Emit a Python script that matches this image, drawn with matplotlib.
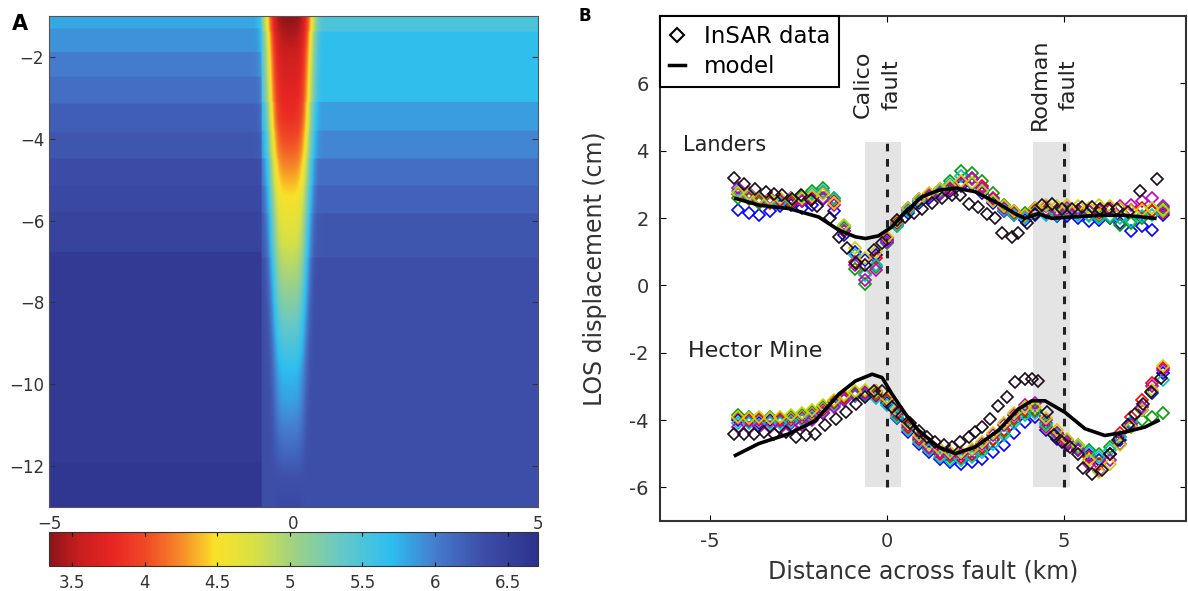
import numpy as np
import matplotlib
matplotlib.use("Agg")
import matplotlib.pyplot as plt
from matplotlib.colors import LinearSegmentedColormap
from matplotlib.lines import Line2D

plt.rcParams['font.family'] = ['DejaVu Sans']

# ---------------- panel A: velocity model ----------------
# horizontal layers west of the fault zone (top depth of each layer, km) and velocity
left_layer_top = [-1.0, -1.30, -1.87, -2.48, -3.13, -3.83, -4.48, -5.13, -5.78, -6.76, -11.90]
left_layer_vel = [5.80, 5.90, 6.00, 6.10, 6.20, 6.25, 6.35, 6.40, 6.45, 6.58, 6.63]
# layers east of the fault zone
right_layer_top = [-1.0, -1.38, -3.10, -3.79, -4.47, -5.13, -5.82, -6.89]
right_layer_vel = [5.50, 5.68, 5.85, 5.95, 6.10, 6.18, 6.25, 6.32]
# compliant zone: velocity in its core and half width vs depth
core_depth = [-1.0, -2.0, -3.5, -4.3, -5.0, -5.6, -6.5, -7.4, -8.4, -9.7, -10.5, -11.3, -12.3, -13.0]
core_vel = [3.35, 3.60, 3.85, 4.10, 4.35, 4.55, 4.75, 5.00, 5.30, 5.70, 5.85, 6.05, 6.30, 6.40]
width_depth = [-1.0, -5.0, -9.0, -13.0]
width_km = [0.48, 0.42, 0.34, 0.28]
zone_center = -0.08
zone_west_edge = -0.65

cbar_ticks = [3.5, 4, 4.5, 5, 5.5, 6, 6.5]
cbar_labels = ["3.5", "4", "4.5", "5", "5.5", "6", "6.5"]

# ---------------- panel B: LOS profiles ----------------
landers_black_x = [-4.31, -4.03, -3.72, -3.42, -3.18, -2.95, -2.67, -2.43, -2.15, -1.96, -1.59, -1.35,
                   -1.12, -0.88, -0.60, -0.37, -0.13, 0.29, 0.53, 0.76, 1.00, 1.28, 1.56, 1.84, 2.08,
                   2.31, 2.59, 2.83, 3.06, 3.25, 3.53, 3.72, 3.95, 4.19, 4.38, 4.66, 4.94, 5.22, 5.50,
                   5.79, 6.02, 6.25, 6.49, 6.82, 7.15, 7.62]
landers_black_y = [3.19, 3.02, 2.85, 2.78, 2.70, 2.68, 2.55, 2.68, 2.53, 2.35, 1.99, 1.44,
                   1.10, 0.65, 0.60, 1.05, 1.25, 1.93, 2.03, 2.15, 2.28, 2.45, 2.58, 2.68, 2.68,
                   2.43, 2.33, 2.13, 1.99, 1.54, 1.44, 1.54, 1.84, 2.13, 2.38, 2.43, 2.28, 2.28, 2.33,
                   2.33, 2.28, 2.28, 2.28, 2.18, 2.79, 3.17]
landers_model_x = [-4.26, -3.6, -2.76, -1.92, -1.35, -0.88, -0.6, -0.23, 0.15, 0.53, 1.0, 1.46, 1.94,
                   2.5, 3.15, 3.62, 3.9, 4.28, 4.66, 5.22, 5.97, 6.73, 7.57]
landers_model_y = [2.58, 2.38, 2.28, 2.03, 1.64, 1.44, 1.39, 1.47, 1.74, 2.18, 2.63, 2.82, 2.89,
                   2.78, 2.43, 2.13, 1.99, 2.13, 1.99, 2.03, 2.08, 2.08, 1.99]

hector_black_x = [-4.31, -4.03, -3.75, -3.46, -3.18, -2.85, -2.57, -2.29, -2.01, -1.73, -1.44, -1.16,
                  -0.88, -0.60, -0.37, -0.13, 0.15, 0.43, 0.67, 0.90, 1.14, 1.37, 1.61, 1.84, 2.08,
                  2.31, 2.50, 2.69, 2.92, 3.15, 3.39, 3.62, 3.90, 4.10, 4.28, 4.52, 4.71, 4.94, 5.17,
                  5.41, 5.55, 5.79, 6.07, 6.30, 6.54, 6.82, 7.00, 7.24, 7.47, 7.75]
hector_black_y = [-4.41, -4.41, -4.41, -4.36, -4.41, -4.36, -4.51, -4.46, -4.41, -4.16, -3.97, -3.77,
                  -3.52, -3.33, -3.13, -3.13, -3.62, -3.87, -4.08, -4.33, -4.51, -4.65, -4.75, -4.80, -4.65,
                  -4.51, -4.35, -4.21, -3.97, -3.57, -3.33, -2.88, -2.79, -2.79, -2.84, -3.77, -4.46, -4.65, -4.80,
                  -5.00, -5.44, -5.59, -5.49, -5.00, -4.60, -4.16, -3.82, -3.53, -3.18, -2.74]
hector_model_x = [-4.27, -3.61, -2.76, -2.01, -1.35, -0.88, -0.41, -0.13, 0.15, 0.53, 0.9, 1.46, 1.94,
                  2.5, 3.15, 3.72, 4.1, 4.47, 5.03, 5.6, 6.16, 6.73, 7.29, 7.66]
hector_model_y = [-5.05, -4.70, -4.41, -4.02, -3.23, -2.84, -2.64, -2.74, -3.23, -3.82, -4.31, -4.80, -5.00,
                  -4.80, -4.31, -3.67, -3.43, -3.43, -3.77, -4.26, -4.46, -4.36, -4.21, -4.02]

# positions of the individual (coloured) profiles
profile_x = [-4.2, -3.9, -3.6, -3.3, -3.0, -2.7, -2.4, -2.1, -1.8, -1.5, -1.2, -0.9, -0.6, -0.3, 0.0,
             0.3, 0.6, 0.9, 1.2, 1.5, 1.8, 2.1, 2.4, 2.7, 3.0, 3.3, 3.6, 3.9, 4.2, 4.5, 4.8, 5.1, 5.4,
             5.7, 6.0, 6.3, 6.6, 6.9, 7.2, 7.5, 7.8]
profile_colors = ['#0000ff', '#00a000', '#ff0000', '#00c0c0', '#c000c0', '#d0d000']

landers_profiles = [
    [2.25, 2.15, 2.1, 2.2, 2.35, 2.4, 2.3, 2.4, 2.55, 2.2, 1.5, 1.0, 0.75, 0.9, 1.35, 1.8, 2.15, 2.45, 2.6, 2.7,
     2.8, 2.95, 3.0, 2.75, 2.45, 2.2, 2.1, 1.95, 2.1, 2.15, 2.05, 2.05, 2.0, 1.9, 1.95, 2.0, 1.85, 1.6, 1.75, 1.65, 2.1],
    [2.6, 2.55, 2.45, 2.5, 2.55, 2.5, 2.65, 2.8, 2.9, 2.6, 1.7, 0.5, 0.05, 0.55, 1.25, 1.75, 2.2, 2.5, 2.7, 2.85,
     3.1, 3.4, 3.35, 3.1, 2.75, 2.4, 2.2, 2.15, 2.25, 2.2, 2.15, 2.2, 2.15, 2.1, 2.05, 2.0, 1.8, 1.85, 2.0, 2.2, 2.3],
    [2.7, 2.6, 2.5, 2.45, 2.5, 2.45, 2.5, 2.6, 2.75, 2.5, 1.6, 0.7, 0.35, 0.8, 1.4, 1.85, 2.25, 2.5, 2.7, 2.75,
     2.85, 3.0, 3.15, 2.95, 2.6, 2.3, 2.15, 2.05, 2.2, 2.25, 2.2, 2.15, 2.2, 2.2, 2.15, 2.25, 2.3, 2.25, 2.3, 2.2, 2.15],
    [2.8, 2.65, 2.55, 2.5, 2.45, 2.55, 2.6, 2.7, 2.8, 2.55, 1.75, 0.9, 0.3, 0.6, 1.3, 1.8, 2.2, 2.5, 2.65, 2.8,
     3.0, 3.25, 3.2, 2.85, 2.5, 2.25, 2.1, 2.0, 2.15, 2.1, 2.1, 2.15, 2.1, 2.05, 2.0, 2.05, 2.0, 1.9, 2.05, 2.1, 2.2],
    [2.9, 2.75, 2.6, 2.6, 2.55, 2.6, 2.5, 2.55, 2.6, 2.4, 1.6, 0.6, 0.15, 0.45, 1.3, 1.9, 2.3, 2.55, 2.65, 2.75,
     2.9, 3.05, 3.2, 2.9, 2.55, 2.3, 2.2, 2.1, 2.3, 2.35, 2.25, 2.3, 2.25, 2.2, 2.25, 2.3, 2.35, 2.4, 2.5, 2.6, 2.35],
    [2.75, 2.7, 2.6, 2.55, 2.6, 2.55, 2.6, 2.65, 2.7, 2.45, 1.8, 1.1, 0.8, 1.0, 1.45, 1.9, 2.3, 2.55, 2.75, 2.85,
     2.95, 3.1, 3.05, 2.8, 2.5, 2.35, 2.2, 2.1, 2.3, 2.4, 2.35, 2.4, 2.35, 2.3, 2.4, 2.35, 2.3, 2.2, 2.25, 2.3, 2.25],
]
hector_profiles = [
    [-4.0, -4.05, -4.1, -4.0, -4.05, -4.1, -4.0, -3.95, -3.8, -3.55, -3.35, -3.3, -3.25, -3.3, -3.5, -3.95, -4.35,
     -4.7, -4.95, -5.15, -5.25, -5.3, -5.25, -5.15, -4.95, -4.75, -4.4, -4.05, -3.9, -4.3, -4.55, -4.75, -4.9,
     -5.05, -5.2, -5.0, -4.6, -4.1, -3.7, -3.2, -2.6],
    [-3.85, -3.9, -3.95, -3.9, -3.95, -3.9, -3.85, -3.75, -3.6, -3.45, -3.3, -3.2, -3.15, -3.2, -3.45, -3.85, -4.2,
     -4.55, -4.85, -5.0, -5.1, -5.15, -5.05, -4.85, -4.6, -4.35, -4.0, -3.75, -3.7, -4.1, -4.4, -4.6, -4.75,
     -4.9, -5.0, -4.8, -4.5, -4.2, -4.0, -3.9, -3.8],
    [-3.95, -4.0, -4.0, -4.05, -4.0, -4.0, -3.95, -3.85, -3.7, -3.5, -3.35, -3.25, -3.2, -3.25, -3.4, -3.8, -4.25,
     -4.6, -4.85, -5.0, -5.05, -5.1, -5.0, -4.8, -4.55, -4.3, -3.95, -3.7, -3.75, -4.2, -4.5, -4.7, -4.85,
     -5.1, -5.3, -5.0, -4.4, -3.9, -3.4, -2.9, -2.45],
    [-4.1, -4.1, -4.15, -4.1, -4.1, -4.05, -4.0, -3.9, -3.75, -3.55, -3.4, -3.3, -3.3, -3.35, -3.55, -3.9, -4.3,
     -4.65, -4.9, -5.1, -5.2, -5.2, -5.1, -4.95, -4.7, -4.45, -4.1, -3.85, -3.8, -4.15, -4.45, -4.65, -4.8,
     -4.95, -5.1, -4.9, -4.5, -4.05, -3.6, -3.15, -2.8],
    [-4.2, -4.25, -4.2, -4.2, -4.25, -4.2, -4.15, -4.0, -3.8, -3.6, -3.4, -3.25, -3.2, -3.15, -3.35, -3.75, -4.15,
     -4.5, -4.8, -4.95, -5.0, -5.0, -4.9, -4.7, -4.45, -4.15, -3.85, -3.55, -3.5, -4.0, -4.4, -4.65, -4.9,
     -5.3, -5.5, -5.2, -4.7, -4.15, -3.6, -3.0, -2.5],
    [-3.9, -3.95, -3.9, -3.95, -3.9, -3.85, -3.8, -3.7, -3.55, -3.4, -3.25, -3.15, -3.1, -3.15, -3.35, -3.7, -4.1,
     -4.45, -4.7, -4.85, -4.95, -4.95, -4.85, -4.65, -4.4, -4.1, -3.8, -3.6, -3.6, -3.95, -4.3, -4.55, -4.75,
     -5.2, -5.55, -5.3, -4.75, -4.2, -3.7, -3.1, -2.4],
]

fault_x = [0, 5]
fault_zone = [(-0.62, 0.39), (4.13, 5.18)]
fault_names = ["Calico\nfault", "Rodman\nfault"]
b_xticks = [-5, 0, 5]
b_yticks = [-6, -4, -2, 0, 2, 4, 6]


def layered(z, tops, vals):
    tops = np.asarray(tops)
    idx = np.sum(z[..., None] < tops, axis=-1) - 1
    return np.asarray(vals)[np.clip(idx, 0, len(vals) - 1)]


cmap = LinearSegmentedColormap.from_list("vel", [
    (0.00, (140/255, 20/255, 25/255)),
    (0.06, (200/255, 30/255, 30/255)),
    (0.13, (232/255, 38/255, 35/255)),
    (0.20, (240/255, 75/255, 38/255)),
    (0.27, (246/255, 140/255, 40/255)),
    (0.34, (250/255, 225/255, 40/255)),
    (0.42, (215/255, 225/255, 70/255)),
    (0.50, (160/255, 210/255, 130/255)),
    (0.60, (100/255, 200/255, 200/255)),
    (0.70, (45/255, 190/255, 240/255)),
    (0.79, (70/255, 125/255, 205/255)),
    (0.88, (62/255, 80/255, 170/255)),
    (1.00, (45/255, 50/255, 140/255)),
])

W, H = 1188, 591
fig = plt.figure(figsize=(W / 100, H / 100), dpi=100)


def px_axes(x0, y0, x1, y1):
    return fig.add_axes([x0 / W, 1 - y1 / H, (x1 - x0) / W, (y1 - y0) / H])


# ---- panel A
axA = px_axes(49, 16, 538, 507)
zs = np.linspace(-13, -1, 600)
xs = np.linspace(-5, 5, 600)
X, Z = np.meshgrid(xs, zs)
bg = np.where(X < zone_west_edge, layered(Z, left_layer_top, left_layer_vel),
              layered(Z, right_layer_top, right_layer_vel))
core = np.interp(Z, core_depth[::-1], core_vel[::-1])
width = np.interp(Z, width_depth[::-1], width_km[::-1])
vel = bg + (core - bg) * np.exp(-((X - zone_center) / width) ** 4)
im = axA.imshow(vel, extent=[-5, 5, -13, -1], origin='lower', aspect='auto',
                cmap=cmap, vmin=3.34, vmax=6.71, interpolation='bilinear')
axA.set_xticks([-5, 0, 5])
axA.set_yticks([-12, -10, -8, -6, -4, -2])
axA.tick_params(direction='in', right=True, top=False, length=4, labelsize=12,
                labelcolor='#333333', color='#333333')
axA.tick_params(axis='x', length=0, pad=6)
for s in axA.spines.values():
    s.set_color('#555555')
fig.text(12 / W, 1 - 24 / H, "A", fontsize=15, fontweight='bold', va='center')

cax = px_axes(49, 532, 538, 566)
cb = fig.colorbar(im, cax=cax, orientation='horizontal', ticks=cbar_ticks)
cb.ax.set_xticklabels(cbar_labels)
cb.ax.tick_params(direction='in', length=3, top=True, labelsize=12, labelcolor='#333333', pad=6)
cb.outline.set_edgecolor('#333333')

# ---- panel B
axB = px_axes(660, 16, 1186, 521)
for (a, b) in fault_zone:
    axB.fill_between([a, b], -6, 4.25, color='#e4e4e4', lw=0, zorder=0)
for fx in fault_x:
    axB.plot([fx, fx], [-6, 4.25], color='#222222', lw=2.2, ls=(0, (2.5, 2.5)), zorder=1)

mk = dict(marker='D', ls='none', mfc='none', ms=6.5, mew=1.2)
for c, yl, yh in zip(profile_colors, landers_profiles, hector_profiles):
    axB.plot(profile_x, yl, mec=c, zorder=2, **mk)
    axB.plot(profile_x, yh, mec=c, zorder=2, **mk)
axB.plot(landers_black_x, landers_black_y, mec='#1a0a1a', zorder=3, **mk)
axB.plot(hector_black_x, hector_black_y, mec='#1a0a1a', zorder=3, **mk)
axB.plot(landers_model_x, landers_model_y, color='k', lw=2.6, zorder=4)
axB.plot(hector_model_x, hector_model_y, color='k', lw=2.6, zorder=4)

for fx, name in zip(fault_x, fault_names):
    axB.text(fx - 0.26, 5.97, name, rotation=90, ha='center', va='center',
             multialignment='center', fontsize=16, linespacing=1.55, color='#222222')
axB.text(-5.75, 4.17, "Landers", fontsize=15, va='center', color='#222222')
axB.text(-5.6, -1.95, "Hector Mine", fontsize=16, va='center', color='#222222')

axB.set_xlim(-6.4, 8.45)
axB.set_ylim(-7, 8)
axB.set_xticks(b_xticks)
axB.set_xticklabels([str(v) for v in b_xticks])
axB.set_yticks(b_yticks)
axB.set_yticklabels([str(v) for v in b_yticks])
axB.tick_params(direction='in', top=True, right=True, length=4, labelsize=14,
                labelcolor='#333333', pad=8)
for s in axB.spines.values():
    s.set_linewidth(1.5)
    s.set_color('#333333')
axB.set_xlabel("Distance across fault (km)", fontsize=17, color='#333333', labelpad=6)
axB.set_ylabel("LOS displacement (cm)", fontsize=17, color='#333333', labelpad=16)

handles = [Line2D([], [], marker='D', ls='none', mfc='none', mec='k', ms=7, mew=1.5),
           Line2D([], [], color='k', lw=2.5)]
leg = axB.legend(handles, ["InSAR data", "model"], loc='upper left', borderaxespad=0,
                 fancybox=False, edgecolor='k', framealpha=1, handlelength=0.7,
                 handletextpad=0.8, fontsize=16.5, borderpad=0.4, labelspacing=0.3)
leg.get_frame().set_linewidth(1.5)
fig.text(578 / W, 1 - 16 / H, "B", fontsize=12, fontweight='bold', va='center')

fig.savefig("out.png", dpi=100)
